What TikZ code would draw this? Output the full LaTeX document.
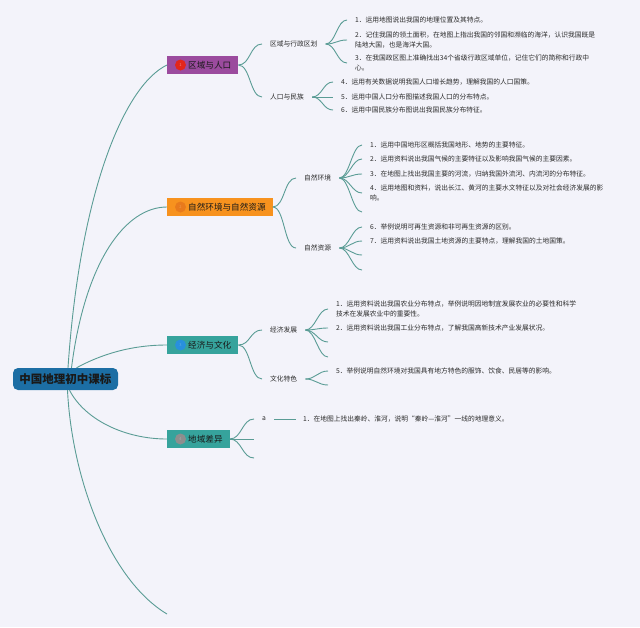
\documentclass[tikz,border=0pt]{standalone}
\usepackage{fontspec}
\setmainfont{Noto Sans CJK SC}
\definecolor{bgc}{HTML}{F3F3FA}
\definecolor{mainc}{HTML}{1C6EA4}
\definecolor{purplec}{HTML}{9B4B9E}
\definecolor{orangec}{HTML}{F7921E}
\definecolor{tealc}{HTML}{36A39C}
\definecolor{linec}{HTML}{5A9C95}
\definecolor{txt}{HTML}{2A2A2A}
\definecolor{iconred}{HTML}{E3261B}
\definecolor{iconorange}{HTML}{E87A1C}
\definecolor{iconblue}{HTML}{2890DD}
\definecolor{icongray}{HTML}{8E8E8E}
\begin{document}
\begin{tikzpicture}[x=1pt,y=-1pt,
  conn/.style={draw=linec, line width=0.9pt},
  mconn/.style={draw=linec, line width=0.9pt},
  mainbox/.style={fill=mainc, rounded corners=5pt, inner xsep=6.5pt, inner ysep=0pt, minimum height=22pt, font=\fontsize{11.5pt}{13pt}\selectfont\bfseries, text=black!90},
  box/.style={anchor=west, inner xsep=7pt, inner ysep=0pt, minimum height=17.5pt, font=\fontsize{8.6pt}{10pt}\selectfont, text=black!90},
  sub/.style={anchor=west, inner xsep=8pt, inner ysep=1pt, font=\fontsize{6.75pt}{10.5pt}\selectfont, text=txt},
  leaf/.style={anchor=west, inner xsep=8pt, inner ysep=1pt, align=left, font=\fontsize{6.75pt}{10.5pt}\selectfont, text=txt},
  icon/.style={circle, inner sep=0pt, minimum size=11pt, font=\fontsize{4pt}{4pt}\selectfont}
]
\fill[bgc] (0,0) rectangle (640,627);
\useasboundingbox (0,0) rectangle (640,627);

% main node
\node[mainbox] (m) at (65.5,379) {中国地理初中课标};

% branch boxes
\node[box, fill=purplec] (b1) at (167,65) {\hspace*{14pt}区域与人口};
\node[box, fill=orangec] (b2) at (167,207) {\hspace*{14pt}自然环境与自然资源};
\node[box, fill=tealc] (b3) at (167,345) {\hspace*{14pt}经济与文化};
\node[box, fill=tealc] (b4) at (167,439) {\hspace*{14pt}地域差异};
\coordinate (endc) at (167,614);

\node[icon, fill=iconred, text=iconred!55!white] (i1) at (180.5,65) {1};
\node[icon, fill=iconorange, text=iconorange!75!white] (i2) at (180.5,207) {2};
\node[icon, fill=iconblue, text=iconblue!75!white] (i3) at (180.5,345) {3};
\node[icon, fill=icongray, text=icongray!75!white] (i4) at (180.5,439) {4};

% main connectors
\draw[mconn] ([xshift=2.5pt]m.north) .. controls (80,190) and (125,85) .. (b1.west);
\draw[mconn] ([xshift=6pt]m.north) .. controls (85,262) and (125,207) .. (b2.west);
\draw[mconn] ([xshift=11pt]m.north) .. controls (100,355) and (130,345) .. (b3.west);
\draw[mconn] ([xshift=4pt]m.south) .. controls (85,420) and (125,439) .. (b4.west);
\draw[mconn] ([xshift=2pt]m.south) .. controls (72,480) and (110,580) .. (endc);

% sub labels
\node[sub] (s1) at (262,44) {区域与行政区划};
\node[sub] (s2) at (262,97) {人口与民族};
\node[sub] (s3) at (296,178) {自然环境};
\node[sub] (s4) at (296,248) {自然资源};
\node[sub] (s5) at (262,330) {经济发展};
\node[sub] (s6) at (262,379) {文化特色};
\node[sub] (s7) at (254,419) {a};
\coordinate (s8) at (254,439);
\coordinate (s9) at (254,458);

\foreach \b/\s in {b1/s1,b1/s2,b2/s3,b2/s4,b3/s5,b3/s6,b4/s7,b4/s8,b4/s9}
  \draw[conn] (\b.east) .. controls +(12,0) and +(-12,0) .. (\s.west);

% leaves: group A
\node[leaf] (a1) at (347,20) {1．运用地图说出我国的地理位置及其特点。};
\node[leaf] (a2) at (347,40) {2．记住我国的领土面积，在地图上指出我国的邻国和濒临的海洋，认识我国既是\\陆地大国，也是海洋大国。};
\node[leaf] (a3) at (347,63) {3．在我国政区图上准确找出34个省级行政区域单位，记住它们的简称和行政中\\心。};
% group B
\node[leaf] (p1) at (333,82) {4．运用有关数据说明我国人口增长趋势，理解我国的人口国策。};
\node[leaf] (p2) at (333,97) {5．运用中国人口分布图描述我国人口的分布特点。};
\node[leaf] (p3) at (333,110) {6．运用中国民族分布图说出我国民族分布特征。};
% group C
\node[leaf] (c1) at (362,145) {1．运用中国地形区概括我国地形、地势的主要特征。};
\node[leaf] (c2) at (362,159) {2．运用资料说出我国气候的主要特征以及影响我国气候的主要因素。};
\node[leaf] (c3) at (362,174) {3．在地图上找出我国主要的河流，归纳我国外流河、内流河的分布特征。};
\node[leaf] (c4) at (362,193) {4．运用地图和资料，说出长江、黄河的主要水文特征以及对社会经济发展的影\\响。};
\coordinate (c5) at (362,212);
% group D
\node[leaf] (d1) at (362,227) {6．举例说明可再生资源和非可再生资源的区别。};
\node[leaf] (d2) at (362,241) {7．运用资料说出我国土地资源的主要特点，理解我国的土地国策。};
\coordinate (d3) at (362,255);
\coordinate (d4) at (362,270);
% group E
\node[leaf] (e1) at (328,309) {1．运用资料说出我国农业分布特点，举例说明因地制宜发展农业的必要性和科学\\技术在发展农业中的重要性。};
\node[leaf] (e2) at (328,328) {2．运用资料说出我国工业分布特点，了解我国高新技术产业发展状况。};
\coordinate (e3) at (328,342);
\coordinate (e4) at (328,357);
% group F
\node[leaf] (f1) at (328,371) {5．举例说明自然环境对我国具有地方特色的服饰、饮食、民居等的影响。};
\coordinate (f2) at (328,385);
% group G
\node[leaf, inner xsep=7pt] (g1) at (296,419) {1．在地图上找出秦岭、淮河，说明“秦岭—淮河”一线的地理意义。};

\foreach \s/\l in {s1/a1,s1/a2,s1/a3,s2/p1,s2/p2,s2/p3,s3/c1,s3/c2,s3/c3,s3/c4,s3/c5,s4/d1,s4/d2,s4/d3,s4/d4,s5/e1,s5/e2,s5/e3,s5/e4,s6/f1,s6/f2}
  \draw[conn] (\s.east) .. controls +(10,0) and +(-10,0) .. (\l.west);
\draw[conn] (s7.east) -- (g1.west);
\end{tikzpicture}
\end{document}
